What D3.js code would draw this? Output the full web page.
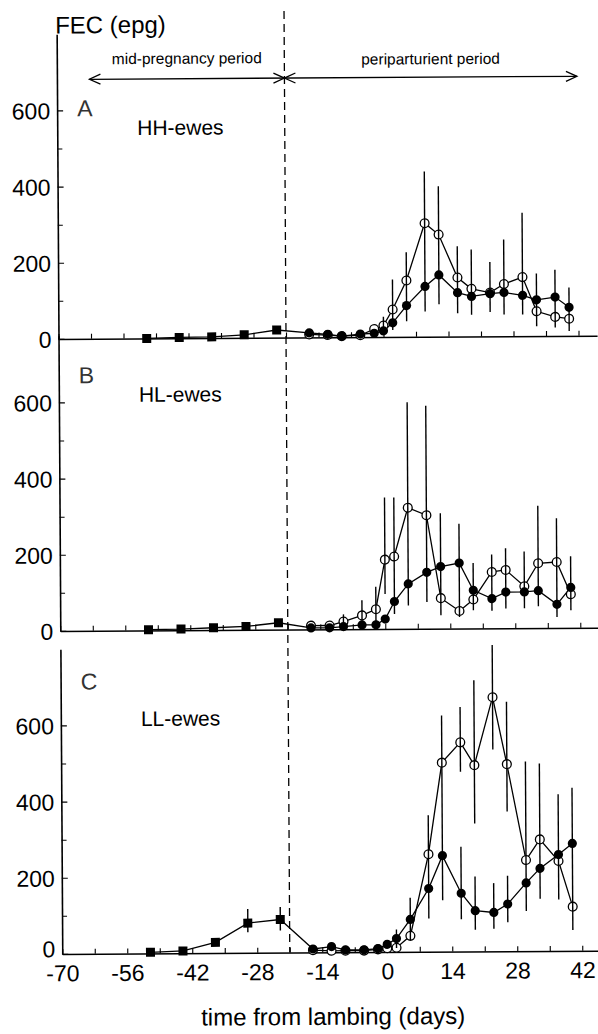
<!DOCTYPE html>
<html><head><meta charset="utf-8">
<script src="https://cdn.jsdelivr.net/npm/d3@7"></script>
<style>
body{margin:0;background:#fff}
svg{display:block}
text{font-family:"Liberation Sans",Arial,Helvetica,sans-serif;fill:#000}
</style>
</head><body>
<svg id="chart" width="598" height="1034"></svg>
<script>
// ---------- data ----------
const periDays = [-16,-12,-9,-5,-2,0,2,5,9,12,16,19,23,26,30,33,37,40];
const pregDays = [-51,-44,-37,-30,-23];
const xTickLabels = [-70,-56,-42,-28,-14,0,14,28,42];
const yTickLabels = [0,200,400,600];
const yMinorTicks = [100,300,500];
const panelLetters = ["A","B","C"];
const groupNames = ["HH-ewes","HL-ewes","LL-ewes"];
const periodNames = ["mid-pregnancy period","periparturient period"];
const periodBounds = [-63,-21,42];

const pregA = [0,2,3,8,20];
const filledA = [12,8,3,8,10,16,37,82,132,162,115,105,112,115,107,95,102,75];
const openA = [8,6,3,5,21,30,72,148,298,268,155,125,115,137,155,65,50,45];
const barsA = [[0,10,53],[2,18,151],[5,41,222],[9,66,434],[12,85,395],[16,61,237],[19,57,228],[23,64,195],[26,57,254],[30,57,324],[33,26,164],[37,22,174],[40,13,127]];

const pregB = [2,3,6,9,18];
const filledB = [4,4,7,11,11,26,72,118,148,163,172,100,78,95,95,98,62,106];
const openB = [10,10,20,36,52,182,190,318,298,80,46,76,148,153,110,170,173,88];
const barsB = [[-9,13,39],[-5,22,76],[-2,17,111],[0,92,345],[2,39,345],[5,61,595],[9,70,585],[12,35,303],[16,30,275],[19,48,172],[23,46,194],[26,52,210],[30,52,201],[33,57,321],[37,29,288],[40,46,188]];

const pregC = [3,6,28,78,87];
const filledC = [9,15,6,6,9,20,35,85,166,252,153,107,102,124,179,217,253,282];
const openC = [6,4,4,4,7,10,11,42,256,496,549,489,667,491,239,293,236,116];
const barsC = [[-30,54,115],[-23,58,120],[2,10,59],[5,31,142],[9,87,358],[12,135,620],[16,472,642],[16,85,275],[19,336,712],[19,57,197],[23,530,804],[23,59,179],[26,367,655],[26,76,198],[30,105,498],[33,137,492],[37,135,411],[40,55,428]];

// ---------- layout ----------
const X0 = 59.5, PX_DAY = 4.643, PX_EPG = 0.381;
const svg = d3.select("#chart");
const root = svg.append("g").attr("transform","rotate(-0.35,300,500)");
const x = d3.scaleLinear().domain([-70,46]).range([X0, X0 + 116*PX_DAY]);

const panels = [
  {zeroY:337.5, top:800, preg:pregA, filled:filledA, open:openA, bars:barsA, letterV:584, nameV:534, xLabels:false},
  {zeroY:629.5, top:775, preg:pregB, filled:filledB, open:openB, bars:barsB, letterV:650, nameV:600, xLabels:false},
  {zeroY:952.5, top:800, preg:pregC, filled:filledC, open:openC, bars:barsC, letterV:694, nameV:597, xLabels:true}
];

const line = d3.line();

panels.forEach((p, i) => {
  const y = d3.scaleLinear().domain([0,p.top]).range([p.zeroY, p.zeroY - p.top*PX_EPG]);
  const g = root.append("g");

  // y axis
  const ya = g.append("g").attr("transform",`translate(${X0},0)`)
    .call(d3.axisLeft(y).tickValues(yTickLabels).tickSizeInner(-6).tickSizeOuter(0).tickPadding(7).tickFormat(d=>String(d)));
  ya.attr("font-family",null);
  ya.select(".domain").attr("stroke-width",1.6);
  ya.selectAll(".tick line").attr("stroke-width",1.2);
  ya.selectAll("text").attr("font-size",23).attr("font-family",null)
    .attr("dy", d => (p.xLabels && d === 0) ? "0.12em" : "0.36em");
  const ym = g.append("g").attr("transform",`translate(${X0},0)`)
    .call(d3.axisLeft(y).tickValues(yMinorTicks).tickSize(-5).tickFormat(""));
  ym.select(".domain").remove();
  ym.selectAll(".tick line").attr("stroke-width",1);

  // x axis
  const xa = g.append("g").attr("transform",`translate(0,${p.zeroY})`)
    .call(d3.axisBottom(x).tickValues(d3.range(-70,43,7)).tickSizeInner(-5).tickSizeOuter(0).tickPadding(11)
      .tickFormat(d => p.xLabels && xTickLabels.includes(d) ? String(d) : ""));
  xa.attr("font-family",null);
  xa.select(".domain").attr("stroke-width",1.6);
  xa.selectAll(".tick line").attr("stroke-width",1.1);
  xa.selectAll("text").attr("font-size",23).attr("font-family",null);

  // lines
  const fPts = pregDays.map((d,k)=>[x(d),y(p.preg[k])]).concat(periDays.map((d,k)=>[x(d),y(p.filled[k])]));
  g.append("path").attr("d",line(fPts)).attr("fill","none").attr("stroke","#000").attr("stroke-width",1.3);
  g.append("path").attr("d",line(periDays.map((d,k)=>[x(d),y(p.open[k])]))).attr("fill","none").attr("stroke","#000").attr("stroke-width",1.3);

  // markers (open first, filled on top)
  g.selectAll(".oc").data(periDays).join("circle")
    .attr("cx",d=>x(d)).attr("cy",(d,k)=>y(p.open[k])).attr("r",4.4).attr("fill","#fff").attr("stroke","#000").attr("stroke-width",1.3);
  g.selectAll(".sq").data(pregDays).join("rect")
    .attr("x",(d)=>x(d)-4.5).attr("y",(d,k)=>y(p.preg[k])-4.5).attr("width",9).attr("height",9).attr("fill","#000");
  g.selectAll(".fc").data(periDays).join("circle")
    .attr("cx",d=>x(d)).attr("cy",(d,k)=>y(p.filled[k])).attr("r",4.6).attr("fill","#000");

  // error bars
  g.selectAll(".eb").data(p.bars).join("line")
    .attr("x1",d=>x(d[0])).attr("x2",d=>x(d[0])).attr("y1",d=>y(d[1])).attr("y2",d=>y(d[2]))
    .attr("stroke","#000").attr("stroke-width",1.4);

  // labels
  g.append("text").attr("x",X0+20).attr("y",y(p.letterV)).attr("font-size",23).style("fill","#333").text(panelLetters[i]);
  g.append("text").attr("x",X0+80).attr("y",y(p.nameV)).attr("font-size",21).text(groupNames[i]);
});

// dashed divider
root.append("line").attr("x1",x(-21)).attr("x2",x(-21)).attr("y1",11).attr("y2",panels[2].zeroY)
  .attr("stroke","#000").attr("stroke-width",1.3).attr("stroke-dasharray","8,5");

// period arrows
const arrowY = 78;
const ag = root.append("g").attr("stroke","#000").attr("stroke-width",1.3).attr("fill","none");
ag.append("line").attr("x1",x(periodBounds[0])).attr("x2",x(periodBounds[2])).attr("y1",arrowY).attr("y2",arrowY);
function head(tip, dir){ // dir -1 points left, +1 points right
  const L = 11, H = 5;
  ag.append("path").attr("d",`M${tip - dir*L},${arrowY-H}L${tip},${arrowY}L${tip - dir*L},${arrowY+H}`);
}
head(x(periodBounds[0]),-1); head(x(periodBounds[1]),1); head(x(periodBounds[1]),-1); head(x(periodBounds[2]),1);
root.append("text").attr("x",x((periodBounds[0]+periodBounds[1])/2)).attr("y",63).attr("text-anchor","middle").attr("font-size",15.5).text(periodNames[0]);
root.append("text").attr("x",x((periodBounds[1]+periodBounds[2])/2)).attr("y",65).attr("text-anchor","middle").attr("font-size",15.5).text(periodNames[1]);

// axis titles
root.append("text").attr("x",58).attr("y",32).attr("font-size",24).text("FEC (epg)");
root.append("text").attr("x",330).attr("y",1025).attr("text-anchor","middle").attr("font-size",24).text("time from lambing (days)");
</script>
</body></html>
